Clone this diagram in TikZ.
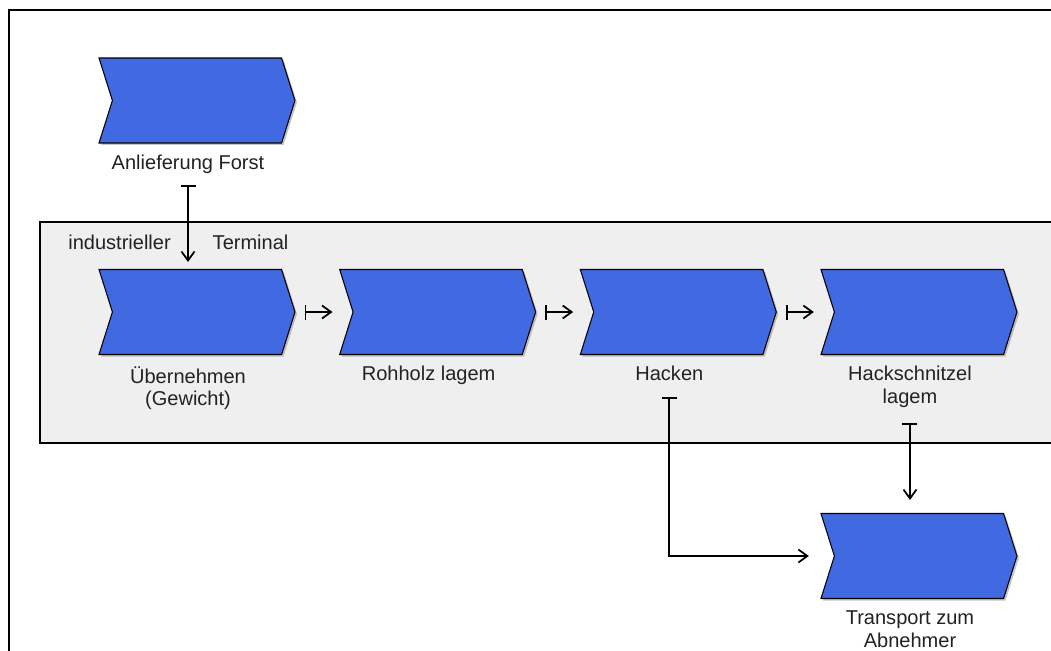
\documentclass[tikz,border=0pt]{standalone}
\usepackage{fontspec}
\setmainfont{Liberation Sans}
\usetikzlibrary{shapes.symbols, arrows.meta, positioning, shadows}
\definecolor{eventblue}{RGB}{65,105,225}
\definecolor{poolgray}{RGB}{239,239,239}
\definecolor{textgray}{RGB}{34,34,34}

\begin{document}
\begin{tikzpicture}[
    x=0.02cm, y=-0.02cm,
    node distance=1.14cm,
    font=\fontsize{11.4pt}{13pt}\selectfont,
    chevron/.style={signal, signal to=east, signal from=west, signal pointer angle=145, minimum width=3.92cm, minimum height=1.7cm, inner sep=0pt, draw=black, fill=eventblue, line width=0.6pt, drop shadow={shadow xshift=0.04cm, shadow yshift=-0.04cm, opacity=0.45}},
    caption/.style={align=center, inner sep=0pt, text=textgray},
    flow/.style={line width=0.035cm, {Bar[width=0.3cm]}-{Straight Barb[length=0.18cm, width=0.26cm]}}
]

\useasboundingbox[fill=white] (0,0) rectangle (1051,651);
\draw[line width=0.04cm] (9,651) -- (9,10) -- (1051,10);

% terminal pool
\fill[poolgray] (40,222) rectangle (1051,443);
\draw[line width=0.6pt] (1051,222) -- (40,222) -- (40,443) -- (1051,443);
\node[caption, anchor=west] (poollabel) at (68,242) {industrieller\hspace{0.84cm}Terminal};

\node (forst) [chevron] at (197,100.5) {};
\node (uebern) [chevron, below=2.51cm of forst] {};
\node (rohholz) [chevron, right=of uebern] {};
\node (hacken) [chevron, right=of rohholz] {};
\node (schnitzel) [chevron, right=of hacken] {};
\node (transport) [chevron, below=3.16cm of schnitzel] {};

\node (lforst) [caption, below=0.22cm of forst, xshift=-0.18cm] {Anlieferung Forst};
\node (luebern) [caption, below=0.22cm of uebern, xshift=-0.18cm] {Übernehmen\\(Gewicht)};
\node (lrohholz) [caption, below=0.22cm of rohholz, xshift=-0.18cm] {Rohholz lagem};
\node (lhacken) [caption, below=0.22cm of hacken, xshift=-0.18cm] {Hacken};
\node (lschnitzel) [caption, below=0.22cm of schnitzel, xshift=-0.18cm] {Hackschnitzel\\lagem};
\node (ltransport) [caption, below=0.22cm of transport, xshift=-0.18cm] {Transport zum\\Abnehmer};

\draw[flow, shorten <=0.22cm, shorten >=0.14cm] (lforst.south) -- (lforst.south |- uebern.north);
\draw[flow, shorten <=0.18cm, shorten >=0.4cm] (uebern.east) -- (rohholz.west);
\draw[flow, shorten <=0.18cm, shorten >=0.4cm] (rohholz.east) -- (hacken.west);
\draw[flow, shorten <=0.18cm, shorten >=0.4cm] (hacken.east) -- (schnitzel.west);
\draw[flow, shorten <=0.32cm, shorten >=0.5cm] (lhacken.south) |- (transport.west);
\draw[flow, shorten <=0.3cm, shorten >=0.26cm] (lschnitzel.south) -- (lschnitzel.south |- transport.north);

\end{tikzpicture}
\end{document}
